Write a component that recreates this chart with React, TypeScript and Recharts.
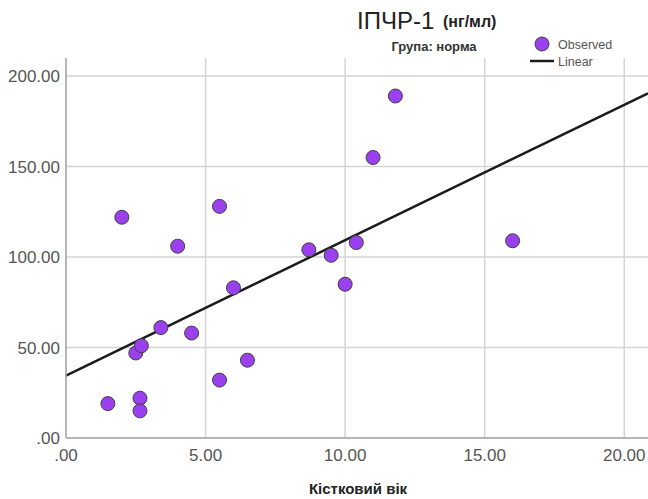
import React from 'react';
import { ComposedChart, Scatter, XAxis, YAxis, CartesianGrid, ReferenceLine } from 'recharts';

// Observed values (Кістковий вік vs ІПЧР-1)
const boneAge = [1.5, 2.0, 2.5, 2.7, 2.65, 2.65, 3.4, 4.0, 4.5, 5.5, 5.5, 6.0, 6.5, 8.7, 9.5, 10.0, 10.4, 11.0, 11.8, 16.0];
const igf = [19, 122, 47, 51, 22, 15, 61, 106, 58, 128, 32, 83, 43, 104, 101, 85, 108, 155, 189, 109];

// Linear fit line endpoints
const fitX = [0, 20.85];
const fitY = [34.5, 190.5];

const xTicks = [0, 5, 10, 15, 20];
const yTicks = [0, 50, 100, 150, 200];

const points = boneAge.map((x, i) => ({ x, y: igf[i] }));

const fmt = (v: number) => (v === 0 ? '.00' : v.toFixed(2));

const FONT = '"Liberation Sans", Arial, sans-serif';

const Dot = (props: any) => {
  const { cx, cy } = props;
  if (cx == null || cy == null) return null;
  return <circle cx={cx} cy={cy} r={7} fill="#9B40EE" stroke="#3f3f3f" strokeWidth={1} />;
};

export default function App() {
  return (
    <div style={{ position: 'absolute', left: 0, top: 0, width: 648, height: 499, background: '#fff' }}>
      <ComposedChart
        width={648}
        height={499}
        margin={{ top: 58, right: 0, left: 0, bottom: 0 }}
        style={{ fontFamily: FONT }}
      >
        <CartesianGrid stroke="#d4d4d4" strokeWidth={1.5} horizontalValues={yTicks} verticalValues={xTicks} />
        <XAxis
          type="number"
          dataKey="x"
          domain={[0, 20.85]}
          ticks={xTicks}
          tickFormatter={fmt}
          height={61}
          tickSize={0}
          tickMargin={11}
          axisLine={{ stroke: '#a8a8a8', strokeWidth: 1.5 }}
          tickLine={false}
          tick={{ fill: '#555', fontSize: 17, fontFamily: FONT }}
          allowDataOverflow
        />
        <YAxis
          type="number"
          dataKey="y"
          domain={[0, 210]}
          ticks={yTicks}
          tickFormatter={fmt}
          width={66}
          tickSize={0}
          tickMargin={6}
          axisLine={{ stroke: '#a8a8a8', strokeWidth: 1.5 }}
          tickLine={false}
          tick={{ fill: '#555', fontSize: 17, fontFamily: FONT }}
          allowDataOverflow
        />
        <ReferenceLine
          segment={[
            { x: fitX[0], y: fitY[0] },
            { x: fitX[1], y: fitY[1] },
          ]}
          stroke="#1a1a1a"
          strokeWidth={2.5}
          ifOverflow="visible"
        />
        <Scatter data={points} dataKey="y" shape={<Dot />} isAnimationActive={false} />
      </ComposedChart>
      <svg
        width={648}
        height={499}
        style={{ position: 'absolute', left: 0, top: 0, pointerEvents: 'none', fontFamily: FONT }}
      >
        <text x={357} y={29} fontSize={24} fill="#222">ІПЧР-1</text>
        <text x={443} y={27} fontSize={16} fontWeight="bold" fill="#222">(нг/мл)</text>
        <text x={434} y={51} fontSize={13} fontWeight="bold" fill="#333" textAnchor="middle">Група: норма</text>
        <circle cx={542} cy={44} r={7} fill="#9B40EE" stroke="#3f3f3f" strokeWidth={1} />
        <text x={558} y={49} fontSize={12.5} fill="#555">Observed</text>
        <line x1={530} x2={554} y1={61} y2={61} stroke="#1a1a1a" strokeWidth={2.5} />
        <text x={558} y={66} fontSize={12.5} fill="#555">Linear</text>
        <text x={358} y={494} fontSize={15} fontWeight="bold" fill="#222" textAnchor="middle">Кістковий вік</text>
      </svg>
    </div>
  );
}
